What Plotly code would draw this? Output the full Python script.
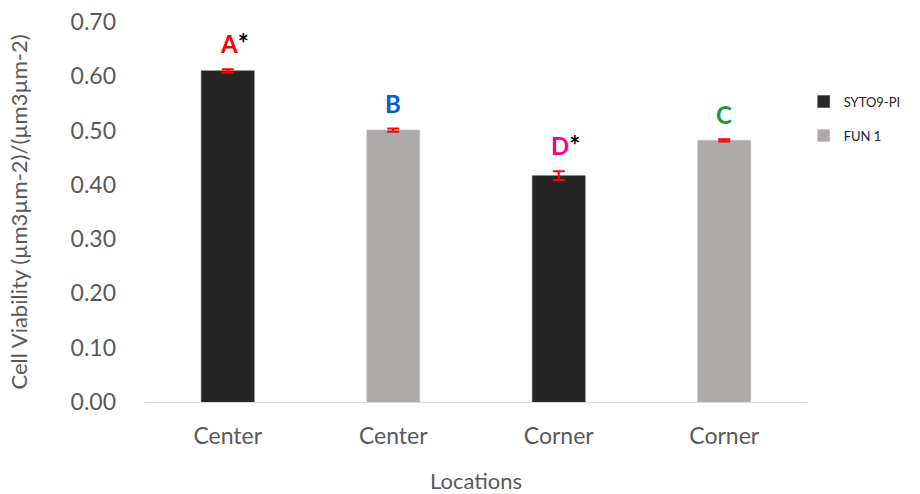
import plotly.graph_objects as go

# Location labels along the x axis (one per bar)
locations = ["Center", "Center", "Corner", "Corner"]

# Series values
syto9_pos = [0, 2]
syto9_vals = [0.610, 0.417]
syto9_err = [0.003, 0.008]

fun1_pos = [1, 3]
fun1_vals = [0.501, 0.482]
fun1_err = [0.003, 0.002]

# Significance letters above each bar
letters = ["A", "B", "D", "C"]
letter_colors = ["#ff0000", "#0060c0", "#ff0080", "#1a9a3a"]
stars = ["*", "", "*", ""]

axis_grey = "#595959"
font_family = "Lato, Carlito, Calibri, sans-serif"

fig = go.Figure()
fig.add_trace(go.Bar(
    x=syto9_pos, y=syto9_vals, name="SYTO9-PI",
    marker=dict(color="#262626", line=dict(color="#3a3a3a", width=0.5)),
    width=0.32, legendgroup="a",
    error_y=dict(type="data", array=syto9_err, color="#ff0000", thickness=2, width=6),
))
fig.add_trace(go.Bar(
    x=fun1_pos, y=fun1_vals, name="FUN 1",
    marker=dict(color="#aeaaaa", line=dict(color="#bbb8b8", width=0.5)),
    width=0.32, legendgroup="b",
    error_y=dict(type="data", array=fun1_err, color="#ff0000", thickness=2, width=6),
))

all_pos = syto9_pos + fun1_pos
all_vals = syto9_vals + fun1_vals
all_err = syto9_err + fun1_err
order = sorted(range(4), key=lambda i: all_pos[i])
for k, i in enumerate(order):
    txt = f"<span style='color:{letter_colors[k]}'><b>{letters[k]}</b></span>"
    if stars[k]:
        txt += f"<span style='color:#000000;font-size:26px'><b>{stars[k]}</b></span>"
    fig.add_annotation(
        x=all_pos[i], y=all_vals[i] + all_err[i], text=txt,
        showarrow=False, yanchor="bottom", xanchor="center",
        xshift=7 if stars[k] else 0, yshift=8,
        font=dict(family=font_family, size=24),
    )

fig.update_layout(
    width=920, height=494,
    margin=dict(l=145, r=113, t=22, b=92, autoexpand=False),
    plot_bgcolor="white", paper_bgcolor="white",
    font=dict(family=font_family, color=axis_grey),
    bargap=0.68,
    showlegend=True,
    legend=dict(
        x=0.995, y=0.83, xanchor="left", yanchor="top",
        font=dict(size=13, color="#222222"),
        tracegroupgap=14, traceorder="grouped",
        itemwidth=30,
    ),
    xaxis=dict(
        tickmode="array", tickvals=[0, 1, 2, 3], ticktext=locations,
        range=[-0.5, 3.5], showgrid=False, zeroline=False,
        showline=True, linecolor="#d9d9d9", linewidth=1,
        ticks="", tickfont=dict(size=23, color=axis_grey), ticklabelstandoff=13,
        title=dict(text="Locations", font=dict(size=22, color=axis_grey), standoff=44),
    ),
    yaxis=dict(
        range=[0, 0.70], tickmode="array",
        tickvals=[0, 0.1, 0.2, 0.3, 0.4, 0.5, 0.6, 0.7],
        ticktext=["0.00", "0.10", "0.20", "0.30", "0.40", "0.50", "0.60", "0.70"],
        showgrid=False, zeroline=False, showline=False, ticks="",
        tickfont=dict(size=23, color=axis_grey), ticklabelstandoff=28,
        title=dict(text="Cell Viability (µm3µm-2)/(µm3µm-2)",
                   font=dict(size=22, color=axis_grey), standoff=36),
    ),
)

fig.write_html("out.html")
